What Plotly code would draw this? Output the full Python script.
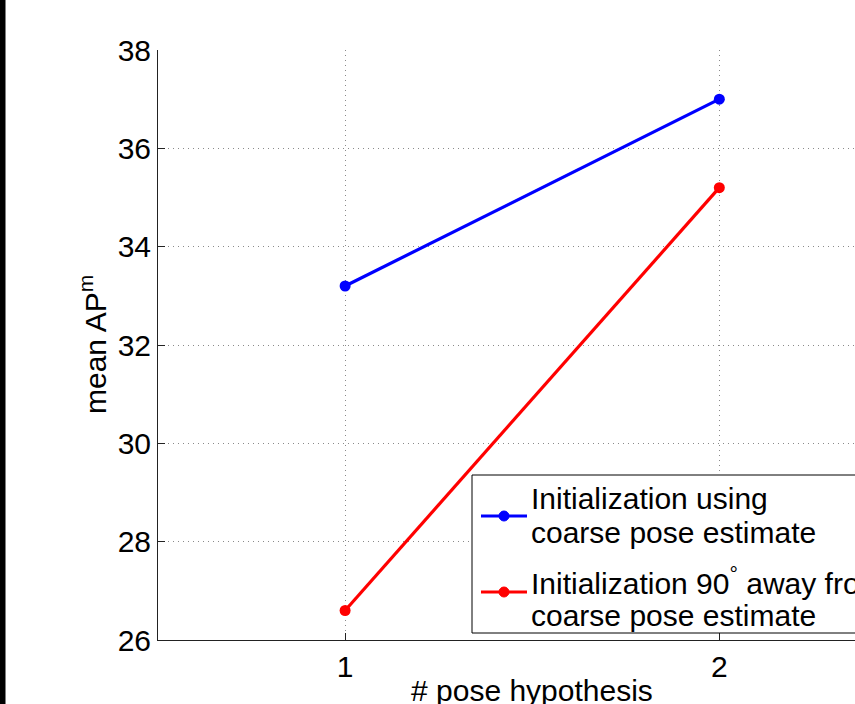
import plotly.graph_objects as go

# ---- data ----
hypotheses = [1, 2]
ap_coarse = [33.2, 37.0]
ap_away90 = [26.6, 35.2]
x_ticks = [1, 2]
y_ticks = [26, 28, 30, 32, 34, 36, 38]
legend_lines = [
    ["Initialization using", "coarse pose estimate"],
    ["Initialization 90<sup>°</sup> away from", "coarse pose estimate"],
]
series_colors = ["#0000FF", "#FF0000"]

W, H = 855, 704
L, R, T, B = 158, 0, 50, 64
PW, PH = W - L - R, H - T - B
FONT = "Liberation Sans, Arial, Helvetica, sans-serif"
FS = 30


def px(xp):
    return (xp - L) / PW


def py(yp):
    return (H - B - yp) / PH


fig = go.Figure()
for vals, col in zip([ap_coarse, ap_away90], series_colors):
    fig.add_trace(go.Scatter(
        x=hypotheses, y=vals, mode="lines+markers",
        line=dict(color=col, width=3.2),
        marker=dict(color=col, size=11),
        showlegend=False, cliponaxis=False, hoverinfo="skip",
    ))

shapes = []
annotations = []

# black strip at the left edge
shapes.append(dict(type="rect", xref="paper", yref="paper",
                   x0=px(0), x1=px(5), y0=py(H), y1=py(0),
                   fillcolor="black", line=dict(color="black", width=1),
                   layer="above"))

# legend box (drawn manually so it can run off the right edge)
shapes.append(dict(type="rect", xref="paper", yref="paper",
                   x0=px(472), x1=px(1100), y0=py(633), y1=py(475),
                   fillcolor="white", line=dict(color="black", width=1),
                   layer="above"))
sample_y = [516, 592]
text_y = [[498, 532], [581, 615]]
for i, col in enumerate(series_colors):
    yy = sample_y[i]
    shapes.append(dict(type="line", xref="paper", yref="paper",
                       x0=px(481), x1=px(527), y0=py(yy), y1=py(yy),
                       line=dict(color=col, width=3.2), layer="above"))
    shapes.append(dict(type="circle", xref="paper", yref="paper",
                       x0=px(499), x1=px(509), y0=py(yy + 5), y1=py(yy - 5),
                       fillcolor=col, line=dict(color=col, width=1), layer="above"))
    for j, txt in enumerate(legend_lines[i]):
        annotations.append(dict(text=txt, xref="paper", yref="paper",
                                x=px(529), y=py(text_y[i][j]),
                                xanchor="left", yanchor="middle", showarrow=False,
                                font=dict(family=FONT, size=FS, color="black")))

# axis titles
annotations.append(dict(text="# pose hypothesis", xref="x", yref="paper",
                        x=1.5, y=py(690), xanchor="center", yanchor="middle",
                        showarrow=False,
                        font=dict(family=FONT, size=FS, color="black")))
annotations.append(dict(text="mean AP<sup>m</sup>", xref="paper", yref="paper",
                        x=px(93), y=py(345), xanchor="center", yanchor="middle",
                        textangle=-90, showarrow=False,
                        font=dict(family=FONT, size=FS, color="black")))

grid = dict(showgrid=True, gridcolor="#8a8a8a", gridwidth=1, griddash="1px,4px")

fig.update_layout(
    width=W, height=H,
    margin=dict(l=L, r=R, t=T, b=B, pad=0),
    paper_bgcolor="white", plot_bgcolor="white",
    font=dict(family=FONT, size=FS, color="black"),
    shapes=shapes, annotations=annotations,
    showlegend=False, hovermode=False,
    xaxis=dict(range=[0.5, 1 + (W - 345) / 374.3], tickvals=x_ticks,
               ticks="inside", ticklen=7, tickcolor="#222", tickwidth=1,
               showline=True, linecolor="#222", linewidth=1,
               zeroline=False, tickfont=dict(size=FS), **grid),
    yaxis=dict(range=[26, 38], tickvals=y_ticks,
               ticks="inside", ticklen=7, tickcolor="#222", tickwidth=1,
               showline=True, linecolor="#222", linewidth=1,
               zeroline=False, tickfont=dict(size=FS), **grid),
)

fig.write_html(
    "out.html",
    config={"displayModeBar": False, "staticPlot": True},
    post_script="document.body.style.margin='0';document.body.style.overflow='hidden';",
)
